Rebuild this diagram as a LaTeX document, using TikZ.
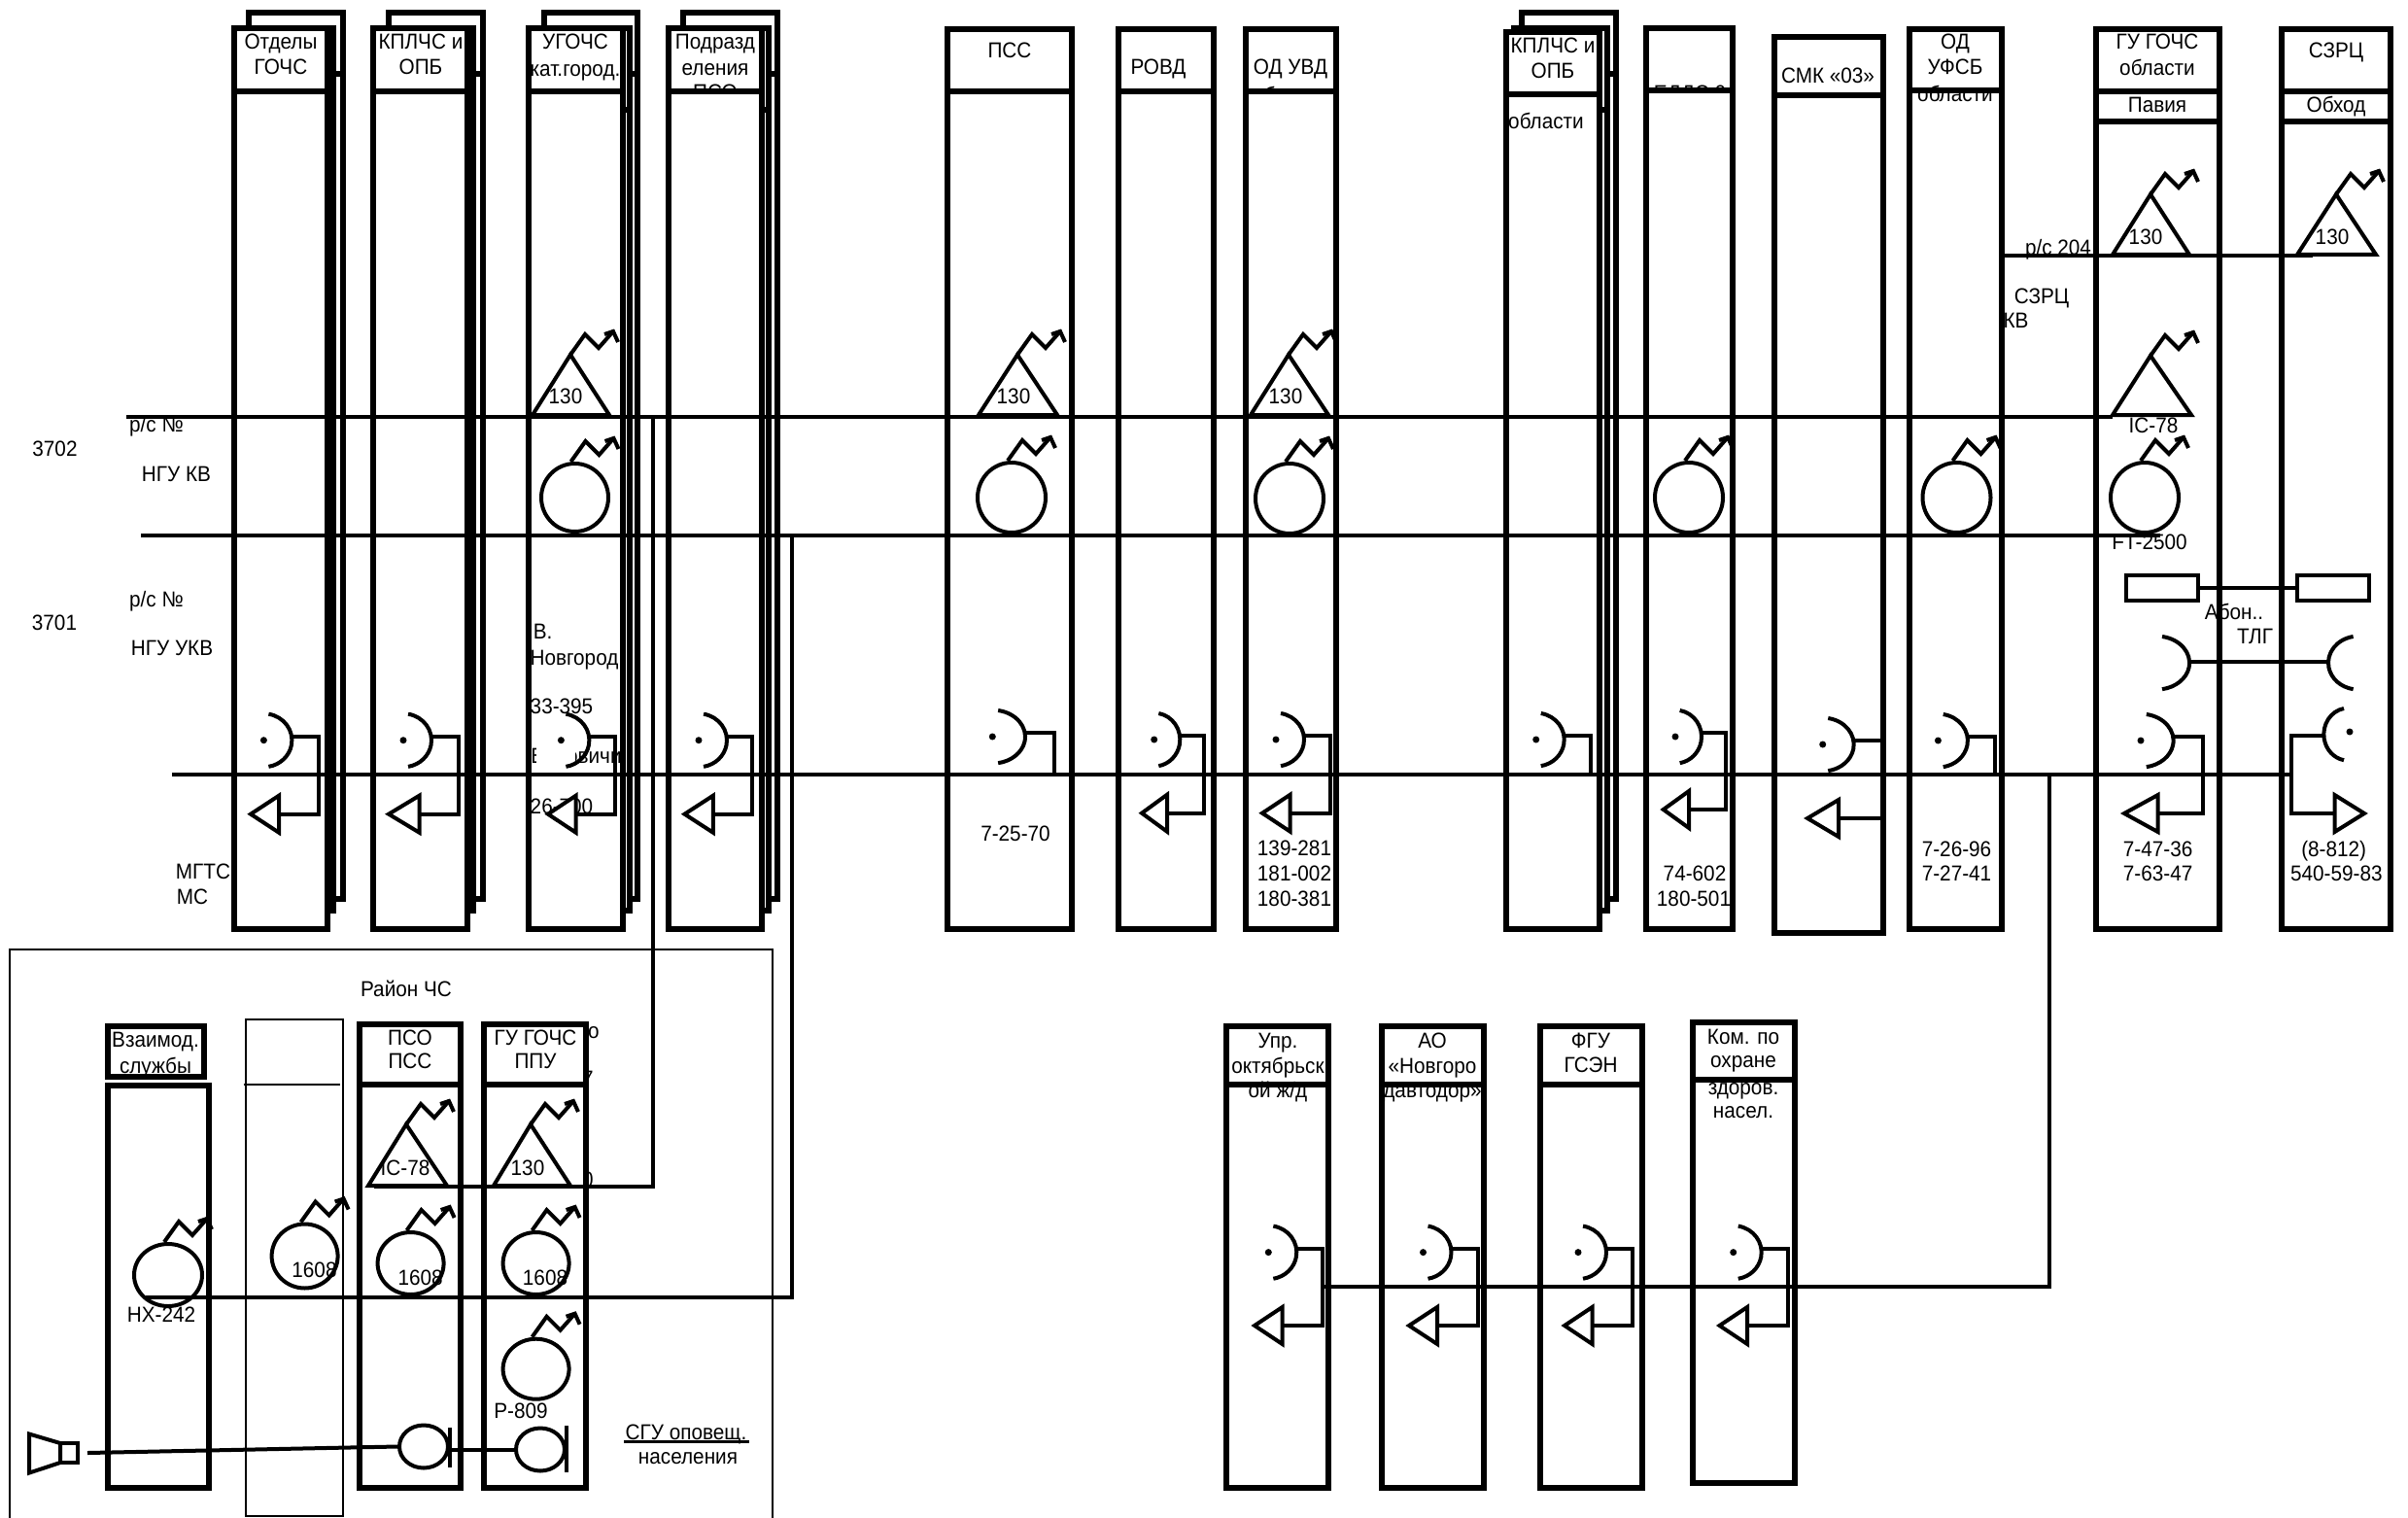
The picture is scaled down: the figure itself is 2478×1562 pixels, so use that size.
\documentclass[tikz,border=0pt]{standalone}
\usepackage{fontspec}
\setmainfont[FakeStretch=0.93]{Liberation Sans}
\newcounter{tn}
\newcommand\T[3]{\stepcounter{tn}\node[lbl] (t\arabic{tn}) at (#1,#2-0.5) {#3};}
% zigzag aerial from a point
\newcommand\zig[2]{\draw[sym,line join=miter] (#1,#2) -- (#1+15,#2-21) -- (#1+29,#2-7) -- (#1+44,#2-24);
  \draw[sym] (#1+35,#2-21) -- (#1+44,#2-24) -- (#1+49,#2-13);}
% triangle antenna: apex x,y, left, right, base y
\newcommand\ant[5]{\draw[sym,line join=miter] (#1,#2) -- (#3,#5) -- (#4,#5) -- cycle; \zig{#1}{#2}}
% round radio: x,y,rx,ry
\newcommand\rad[4]{\draw[sym] (#1,#2) ellipse [x radius=#3pt,y radius=#4pt]; \zig{#1-4}{#2-#4-2}}
% telephone: name,x,y,rx
\newcommand\tel[4]{\fill (#2,#3) circle [radius=3.5pt];
  \draw[sym] (#2+#4*0.1736,#3-27) arc [start angle=80,end angle=-80,x radius=#4pt,y radius=27.5pt];
  \coordinate (#1) at (#2+#4,#3-4);}
% handset triangle: name,tip x,base x,y
\newcommand\hand[4]{\draw[sym,fill=white,line join=miter] (#2,#4) -- (#3,#4-19) -- (#3,#4+19) -- cycle;
  \coordinate (#1) at (#3,#4);}
% wiring: phone, handset, side x
\newcommand\rig[3]{\coordinate (#1s) at (#3,0); \draw[sym,line join=miter] (#1) -| (#1s |- #2) -- (#2);}
\newcommand\drop[2]{\coordinate (#1s) at (#2,797); \draw[sym,line join=miter] (#1) -| (#1s);}
\tikzset{
  lbl/.style={inner sep=0pt,font=\fontsize{22.3}{25}\selectfont,text height=16pt,text depth=0pt,anchor=center},
  colbox/.style={draw=black,line width=6pt,line join=miter},
  busline/.style={draw=black,line width=4pt},
  sym/.style={draw=black,line width=4pt},
  thin/.style={draw=black,line width=2pt}
}
\def\cols{241/337/29/956/94,384/481/29/956/94,544/641/29/956/94,688/784/29/956/94,
975/1103/30/956/94,1151/1249/30/956/94,1282/1375/30/956/94,1550/1646/33/956/97,
1694/1783/29/956/93,1826/1938/38/960/98,1965/2060/30/956/93,2157/2284/30/956/94,2348/2460/30/956/94,
1262/1367/1056/1531/1116,1422/1527/1056/1531/1116,1585/1690/1056/1531/1116,1742/1847/1052/1526/1111,
370/474/1054/1531/1116,498/603/1054/1531/1116}
\begin{document}
\begin{tikzpicture}[x=1pt,y=-1pt]
\useasboundingbox (0,0) rectangle (2478,1562);
\fill[white] (0,0) rectangle (2478,1562);
% outer area
\draw[thin] (10,1562) -- (10,977) -- (794.5,977) -- (794.5,1562);
% stray characters
\T{611}{1061}{о}\T{605}{1110}{7}\T{605}{1214}{0}
% stacked back boxes
\foreach \l/\r/\br/\m/\bt in {256/353/343/241/925,400/497/487/384/925,560/656/648/544/925,703/800/791/688/925,1566/1663/1654/1555/925}{
  \draw[colbox,fill=white] (\l,13) rectangle (\r,\bt);
  \draw[colbox] (\l,76) -- (\r,76);
  \draw[colbox,fill=white] (\m+3,29) rectangle (\br,937);
  \draw[colbox] (\m+3,113) -- (\br,113);
}
% columns
\foreach \l/\r/\t/\b/\h in \cols{
  \draw[colbox,fill=white] (\l,\t) rectangle (\r,\b);
  \draw[colbox] (\l,\h) -- (\r,\h);
}
\draw[colbox,fill=white] (111,1056) rectangle (210,1108);
\draw[colbox,fill=white] (111,1117) rectangle (215,1531);
\draw[thin,fill=white] (253,1049) rectangle (353,1560);
\draw[thin] (250.5,1116) -- (350,1116);
% column headings
\T{289}{43}{Отделы}\T{289}{69}{ГОЧС}
\T{433}{43}{КПЛЧС и}\T{433}{69}{ОПБ}
\T{592}{43}{УГОЧС}\T{592}{71}{кат.город.}
\T{736}{43}{Подразд}\T{736}{70}{еления}\T{736}{95}{ПСО}
\T{1039}{52}{ПСС}\T{1192}{69}{РОВД}\T{1328}{69}{ОД УВД}\T{1328}{98}{области}
\T{1598}{47}{КПЛЧС и}\T{1598}{73}{ОПБ}\T{1591}{125}{области}
\T{1739}{96}{ЕДДС 0}\T{1881}{78}{СМК «03»}
\T{2012}{43}{ОД}\T{2012}{69}{УФСБ}\T{2012}{97}{области}
\T{2220}{43}{ГУ ГОЧС}\T{2220}{70}{области}\T{2220}{108}{Павия}
\T{2404}{52}{СЗРЦ}\T{2404}{108}{Обход}
\T{160}{1070}{Взаимод.}\T{160}{1097}{службы}
\T{422}{1068}{ПСО}\T{422}{1092}{ПСС}\T{551}{1068}{ГУ ГОЧС}\T{551}{1092}{ППУ}
\T{1315}{1071}{Упр.}\T{1315}{1097}{октябрьск}\T{1315}{1122}{ой ж/д}
\T{1474}{1071}{АО}\T{1474}{1097}{«Новгоро}\T{1474}{1122}{давтодор»}
\T{1637}{1071}{ФГУ}\T{1637}{1096}{ГСЭН}
\T{1794}{1067}{Ком. по}\T{1794}{1091}{охране}\T{1794}{1119}{здоров.}\T{1794}{1143}{насел.}
% side labels
\T{56.5}{462}{3702}\T{161}{437}{р/с №}\T{181.5}{488}{НГУ КВ}
\T{56}{641}{3701}\T{161}{617}{р/с №}\T{177}{667}{НГУ УКВ}
\T{209}{897}{МГТС}\T{198}{923}{МС}
\T{558.6}{650}{В.}\T{591}{677}{Новгород}\T{578}{727}{33-395}\T{593}{778}{Боровичи}\T{578}{830}{26-700}
\T{1045}{858}{7-25-70}
\T{1332}{873}{139-281}\T{1332}{899}{181-002}\T{1332}{925}{180-381}
\T{1744}{899}{74-602}\T{1743}{925}{180-501}
\T{2013.5}{874}{7-26-96}\T{2013.5}{899}{7-27-41}
\T{2220.6}{874}{7-47-36}\T{2220.6}{899}{7-63-47}
\T{2401.7}{874}{(8-812)}\T{2404.4}{899}{540-59-83}
\T{2118}{255}{р/с 204}\T{2101}{305}{СЗРЦ}\T{2074.5}{330}{КВ}
\T{2216}{438}{IC-78}\T{2212}{558}{FT-2500}\T{2299}{630}{Абон..}\T{2320.5}{655}{ТЛГ}
\T{582}{408}{130}\T{1043}{408}{130}\T{1323}{408}{130}\T{2208}{244}{130}\T{2400}{244}{130}
\T{417}{1202}{IC-78}\T{543}{1202}{130}
\T{166}{1353}{НХ-242}\T{323.5}{1307}{1608}\T{432.6}{1315}{1608}\T{561}{1315}{1608}\T{536}{1452}{Р-809}
\T{418}{1018}{Район ЧС}
\T{706}{1474}{СГУ оповещ.}\T{708}{1499}{населения}
\draw[line width=3pt] (642,1483) -- (771,1483);
% masks over hidden text
\fill[white] (691,97) rectangle (781,122);
\fill[white] (1285,97) rectangle (1372,122);
\fill[white] (1697,96) rectangle (1780,122);
\fill[white] (552,764) rectangle (592,793);
% restroke
\foreach \l/\r/\t/\b/\h in \cols{
  \draw[colbox] (\l,\t) rectangle (\r,\b);
  \draw[colbox] (\l,\h) -- (\r,\h);
}
\draw[colbox] (2157,125) -- (2284,125);
\draw[colbox] (2348,125) -- (2460,125);
\draw[colbox] (111,1056) rectangle (210,1108);
% buses
\coordinate (a0) at (130,429); \coordinate (a1) at (2174,429);
\coordinate (b0) at (145,551); \coordinate (b1) at (2223,551);
\coordinate (c0) at (177,797); \coordinate (c1) at (2357.5,797);
\coordinate (d0) at (2063,263); \coordinate (d1) at (2380,263);
\coordinate (v1) at (672,429); \coordinate (v1b) at (672,1221); \coordinate (v1e) at (385,1221);
\coordinate (v2) at (815,551); \coordinate (v2b) at (815,1335); \coordinate (v2e) at (150,1335);
\coordinate (v3) at (2109,797); \coordinate (v3b) at (2109,1323.5); \coordinate (v3e) at (1359,1323.5);
\draw[busline] (a0) -- (a1);
\draw[busline] (b0) -- (b1);
\draw[busline] (c0) -- (c1);
\draw[busline] (d0) -- (d1);
\draw[busline,line join=miter] (v1) -- (v1b) -- (v1e);
\draw[busline,line join=miter] (v2) -- (v2b) -- (v2e);
\draw[busline,line join=miter] (v3) -- (v3b) -- (v3e);
% antennas
\ant{587}{365}{548}{627}{427}
\ant{1047}{365}{1007}{1088}{427}
\ant{1326}{365}{1287}{1367}{427}
\ant{2213}{200}{2174}{2253}{262}
\ant{2213}{366}{2174}{2255}{427}
\ant{2404}{200}{2364}{2445}{262}
\ant{418}{1157}{379}{460}{1220}
\ant{546}{1157}{508}{587}{1220}
% radios
\rad{591.5}{512}{34.5}{35}\rad{1041}{512}{35}{36}\rad{1327}{513}{35}{36}\rad{1738}{512}{35}{36}
\rad{2013.5}{512}{35}{36}\rad{2207}{512}{35}{36}
\rad{173}{1312}{35}{32}\rad{313.6}{1292.5}{34}{33}\rad{422.6}{1300}{34}{32}\rad{551.6}{1300}{34}{32}\rad{551.6}{1408.7}{34}{31}
% telephones
\tel{p1}{271.4}{761.7}{29}\hand{h1}{258}{287}{837.7}\rig{p1}{h1}{328}
\tel{p2}{415}{761.7}{29}\hand{h2}{400}{431.5}{837.7}\rig{p2}{h2}{472}
\tel{p3}{577.4}{761.7}{29}\hand{h3}{564}{592.6}{837.7}\rig{p3}{h3}{633}
\tel{p4}{719}{761.7}{29}\hand{h4}{704.5}{733.8}{837.7}\rig{p4}{h4}{774}
\tel{p5}{1021.3}{758}{33.7}\drop{p5}{1085.3}
\tel{p6}{1187.7}{761}{26.6}\hand{h6}{1175}{1201}{836.7}\rig{p6}{h6}{1239}
\tel{p7}{1313}{761}{29}\hand{h7}{1299}{1327.7}{836.7}\rig{p7}{h7}{1369}
\tel{p8}{1580.7}{761}{29}\drop{p8}{1636.7}
\tel{p9}{1724}{758}{27}\hand{h9}{1711.7}{1738}{833}\rig{p9}{h9}{1775.7}
\tel{p10}{1875.7}{766}{32}\hand{h10}{1860}{1892}{842}
\coordinate (e10a) at (1938,762); \coordinate (e10b) at (1938,842);
\draw[sym] (p10) -- (e10a); \draw[sym] (h10) -- (e10b);
\tel{p11}{1994.4}{762}{30.5}\drop{p11}{2053}
\tel{p12}{2203}{762}{33.6}\hand{h12}{2186}{2220.6}{837}\rig{p12}{h12}{2267}
% mirrored telephone
\fill (2418,753) circle [radius=3.5pt];
\draw[sym] (2412,729) arc [start angle=100,end angle=260,x radius=25pt,y radius=27pt];
\coordinate (p13) at (2393,757); \hand{h13}{2433}{2402.5}{837}
\rig{p13}{h13}{2357.5}
% telegraph link
\draw[sym] (2225,655) arc [start angle=80,end angle=-80,x radius=34pt,y radius=27.5pt];
\draw[sym] (2421.6,655) arc [start angle=100,end angle=260,x radius=31pt,y radius=27.5pt];
\coordinate (q1) at (2253,681); \coordinate (q2) at (2395.6,681);
\draw[sym] (q1) -- (q2);
\node[draw,line width=4pt,minimum width=74pt,minimum height=26pt,inner sep=0pt] (r1) at (2225,605) {};
\node[draw,line width=4pt,minimum width=74pt,minimum height=26pt,inner sep=0pt] (r2) at (2401,605) {};
\draw[sym] (r1) -- (r2);
% lower telephones
\tel{p21}{1305.3}{1288.6}{29}\hand{h21}{1291}{1319.6}{1364}\rig{p21}{h21}{1361}
\tel{p22}{1464.5}{1288.6}{29}\hand{h22}{1450}{1479}{1364}\rig{p22}{h22}{1520.5}
\tel{p23}{1624}{1288.6}{29}\hand{h23}{1610}{1638.5}{1364}\rig{p23}{h23}{1680}
\tel{p24}{1783.7}{1288.6}{29}\hand{h24}{1769.5}{1798}{1364}\rig{p24}{h24}{1840}
% horn and sirens
\draw[sym,line join=miter] (30,1475.5) -- (62,1485) -- (62,1505) -- (30,1515.6) -- cycle;
\draw[sym] (62,1485) rectangle (80,1505);
\coordinate (hornout) at (90,1495);
\draw[sym] (436,1488.5) ellipse [x radius=25pt,y radius=22pt];
\draw[sym] (463,1469) -- (463,1510);
\draw[sym] (556,1491.5) ellipse [x radius=25pt,y radius=22pt];
\draw[sym] (583,1467) -- (583,1515);
\coordinate (s1a) at (409,1488.5); \coordinate (s1b) at (463,1491.5); \coordinate (s2a) at (531,1491.5);
\draw[sym] (hornout) -- (s1a);
\draw[sym] (s1b) -- (s2a);
\end{tikzpicture}
\end{document}
